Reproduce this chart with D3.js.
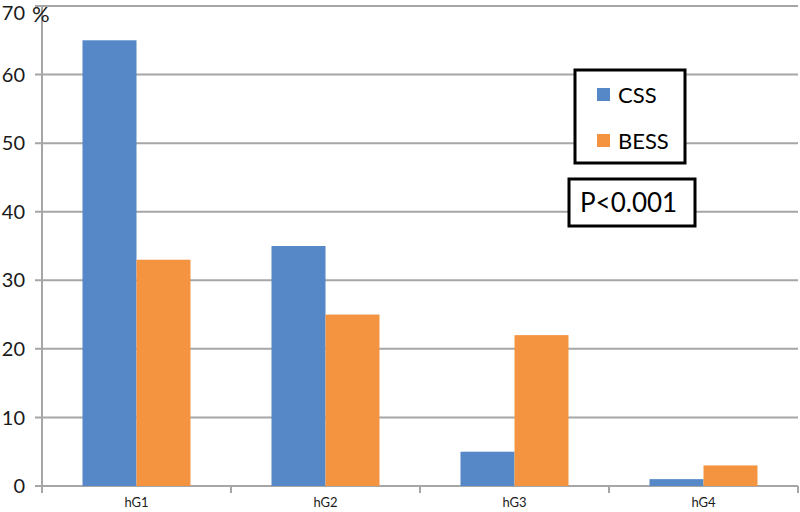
<!DOCTYPE html>
<html><head><meta charset="utf-8">
<script src="https://cdn.jsdelivr.net/npm/d3@7"></script>
<style>body{margin:0;background:#fff}svg{display:block;font-family:Lato,"Liberation Sans",sans-serif}</style>
</head><body>
<svg id="c" width="800" height="512"></svg>
<script>
const categories = ["hG1","hG2","hG3","hG4"];
const seriesNames = ["CSS","BESS"];
const cssValues = [65,35,5,1];
const bessValues = [33,25,22,3];
const yTicks = [0,10,20,30,40,50,60,70];
const colors = ["#5687c7","#f49440"];

(function(){
const svg = d3.select("#c");
const mLeft = 42, mRight = 798, mTop = 6, mBottom = 486;
const x = d3.scaleBand().domain(categories).range([mLeft,mRight]).paddingInner(0).paddingOuter(0);
const y = d3.scaleLinear().domain([0,70]).range([mBottom,mTop]);

// gridlines
svg.append("g").selectAll("line").data(yTicks).join("line")
  .attr("x1",mLeft-7).attr("x2",mRight).attr("y1",d=>y(d)).attr("y2",d=>y(d))
  .attr("stroke","#a6a6a6").attr("stroke-width",2);
// y axis line
svg.append("line").attr("x1",mLeft).attr("x2",mLeft).attr("y1",mTop).attr("y2",mBottom+7)
  .attr("stroke","#a6a6a6").attr("stroke-width",2);
// x tick marks at boundaries
const bounds = categories.map(c=>x(c)).concat([mRight]);
svg.append("g").selectAll("line").data(bounds).join("line")
  .attr("x1",d=>d).attr("x2",d=>d).attr("y1",mBottom).attr("y2",mBottom+7)
  .attr("stroke","#a6a6a6").attr("stroke-width",2);

// y labels
svg.append("g").selectAll("text").data(yTicks).join("text")
  .attr("x",25).attr("y",d=>d===70 ? y(d)+7 : y(d)).attr("dy","0.36em").attr("text-anchor","end")
  .attr("font-size",20).attr("fill","#1a1a1a").text(d=>d);
svg.append("text").attr("x",32).attr("y",y(70)+8).attr("dy","0.36em")
  .attr("font-size",22).attr("fill","#1a1a1a").text("%");

// bars
const data = [cssValues,bessValues];
const barW = 54;
seriesNames.forEach((s,i)=>{
  svg.append("g").selectAll("rect").data(categories).join("rect")
    .attr("x",(c)=>x(c)+x.bandwidth()/2 - barW + i*barW)
    .attr("width",barW)
    .attr("y",(c,j)=>y(data[i][j]))
    .attr("height",(c,j)=>y(0)-y(data[i][j]))
    .attr("fill",colors[i]);
});

// category labels
svg.append("g").selectAll("text").data(categories).join("text")
  .attr("x",c=>x(c)+x.bandwidth()/2).attr("y",507)
  .attr("text-anchor","middle").attr("font-size",13).attr("fill","#1a1a1a").text(c=>c);

// legend
svg.append("rect").attr("x",575).attr("y",70).attr("width",110).attr("height",93)
  .attr("fill","#fff").attr("stroke","#000").attr("stroke-width",3);
seriesNames.forEach((s,i)=>{
  const yy = 95 + i*46;
  svg.append("rect").attr("x",597).attr("y",yy-7).attr("width",13).attr("height",13).attr("fill",colors[i]);
  svg.append("text").attr("x",618).attr("y",yy).attr("dy","0.36em").attr("font-size",22)
    .attr("fill","#000").text(s);
});
// p-value box
svg.append("rect").attr("x",569).attr("y",179).attr("width",126).attr("height",47)
  .attr("fill","#fff").attr("stroke","#000").attr("stroke-width",3);
svg.append("text").attr("x",580).attr("y",203).attr("dy","0.36em").attr("font-size",26)
  .attr("fill","#000").text("P<0.001");
})();
</script>
</body></html>
